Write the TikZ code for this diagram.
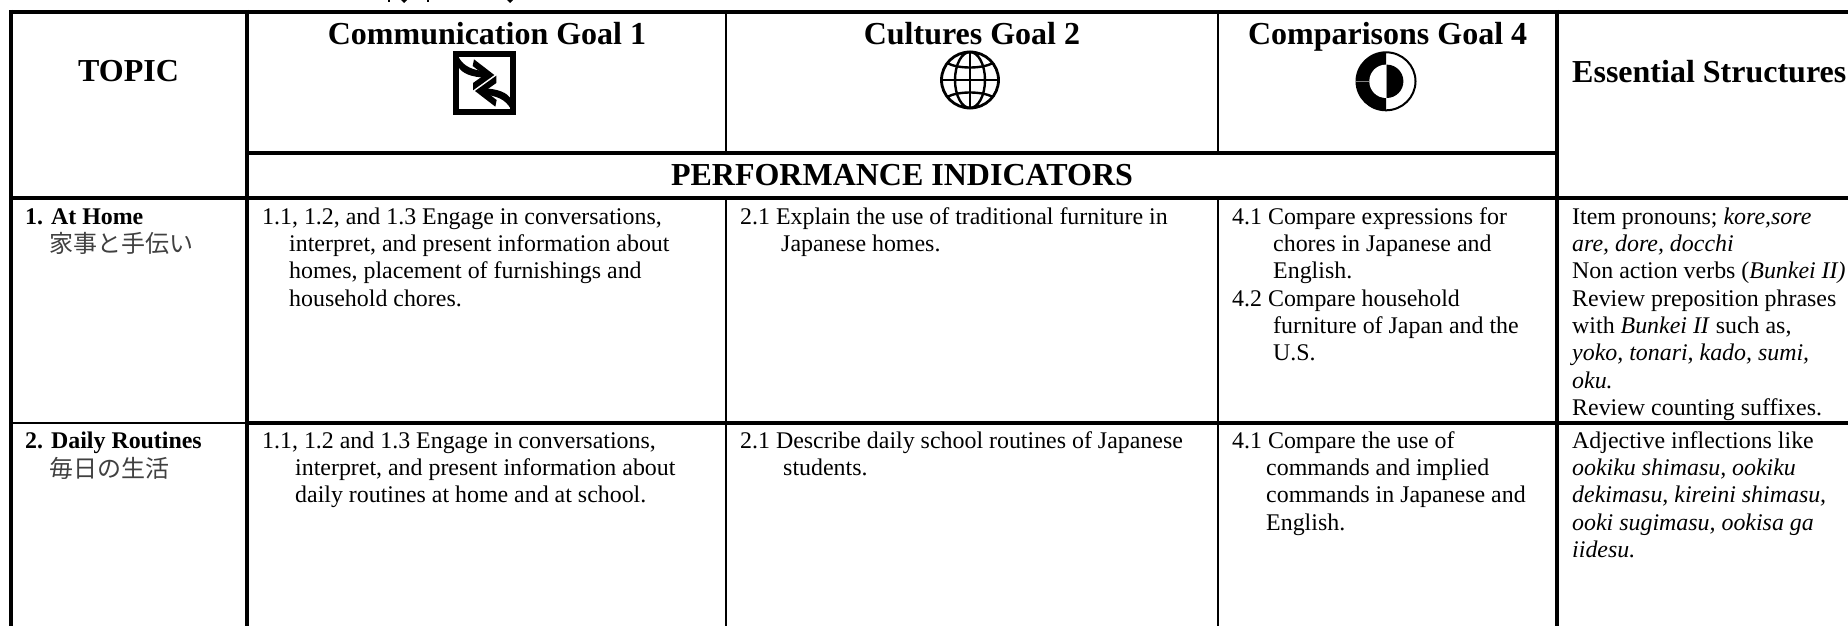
\documentclass[tikz,border=0pt]{standalone}
\usepackage{fontspec}
\setmainfont{Liberation Serif}
\newfontfamily\jpfont{Noto Sans CJK JP}
\newcommand{\fs}{\rule{0pt}{20pt}}
\newcommand{\hg}[1]{\hspace*{#1pt}}
\definecolor{jpgrey}{gray}{0.25}
\tikzset{
  thickrule/.style={line width=3.8pt,black},
  midrule/.style={line width=2.4pt,black},
  cell/.style={anchor=north west,inner sep=0pt,align=left,font=\fontsize{23.9}{27.3}\selectfont},
  head/.style={anchor=base,inner sep=0pt,font=\fontsize{32}{36}\selectfont\bfseries},
  jp/.style={anchor=base west,inner sep=0pt,text=jpgrey,font=\fontsize{24}{27}\selectfont\jpfont},
}
\begin{document}
\begin{tikzpicture}[x=1pt,y=-1pt]
\useasboundingbox (0,0) rectangle (1848,626);
\clip (0,0) rectangle (1848,626);
% table rules
\draw[thickrule] (9,11.8) -- (1848,11.8);
\draw[thickrule] (245,152.7) -- (1559,152.7);
\draw[thickrule] (9,198) -- (1848,198);
\draw[midrule] (10,422.7) -- (247,422.7);
\draw[thickrule] (245,422.7) -- (1848,422.7);
\draw[line width=3.6pt] (10.7,10) -- (10.7,626);
\draw[line width=4pt] (247,10) -- (247,626);
\draw[midrule] (726,11) -- (726,152);
\draw[midrule] (726,198) -- (726,626);
\draw[midrule] (1218,11) -- (1218,152);
\draw[midrule] (1218,198) -- (1218,626);
\draw[line width=4pt] (1557,10) -- (1557,626);
% clipped fragments at the top
\fill (388,0) rectangle (390,2);
\fill (401,0) -- (407,0) -- (404,3) -- cycle;
\fill (427,0) rectangle (429,2);
\fill (507,0) -- (513,0) -- (510,3) -- cycle;
% headings
\node[head] (topic) at (128.5,81.7) {TOPIC};
\node[head] (comm) at (487,45) {Communication Goal 1};
\node[head] (cult) at (972,45) {Cultures Goal 2};
\node[head] (comp) at (1387.6,45) {Comparisons Goal 4};
\node[head,anchor=base west] (ess) at (1572,82) {Essential Structures};
\node[head] (perf) at (902,185.7) {PERFORMANCE INDICATORS};
% communication icon
\begin{scope}[shift={(430,40)},x=0.3333pt,y=-0.3333pt]
\draw[line width=6pt,miter limit=10] (79,42) rectangle (249,216);
\fill (85,50) .. controls (102,82) and (130,90) .. (168,95) -- (168,113) .. controls (125,112) and (95,100) .. (85,80) -- cycle;
\fill (132,58) -- (193,105) -- (129,151) -- (129,129) -- (163,105) -- (128,78) -- cycle;
\fill (243,208) .. controls (226,176) and (198,168) .. (160,163) -- (160,145) .. controls (203,146) and (233,158) .. (243,178) -- cycle;
\fill (196,200) -- (135,153) -- (199,107) -- (199,129) -- (165,153) -- (200,180) -- cycle;
\end{scope}
% globe icon
\begin{scope}[shift={(970,80)}]
\draw[line width=2.8pt] (0,0) ellipse (28.5pt and 28pt);
\draw[line width=2.4pt] (0,0) ellipse (15pt and 28pt);
\draw[line width=2.4pt] (0,-28) -- (0,28);
\draw[line width=2.4pt] (-29,0) -- (29,0);
\draw[line width=2.4pt] (-23,-17) .. controls (-12,-11) and (12,-11) .. (23,-17);
\draw[line width=2.4pt] (-23,17) .. controls (-12,11) and (12,11) .. (23,17);
\end{scope}
% comparison icon
\begin{scope}[shift={(1386,81.3)}]
\fill (0,-30) arc (90:270:30.5pt and 30pt) -- cycle;
\fill[white] (0,-16.7) arc (90:270:16.7pt) -- cycle;
\draw[line width=2pt] (0,-29) arc (90:-90:29.5pt and 29pt);
\fill (0.7,-16.7) arc (90:-90:16.7pt) -- cycle;
\draw[gray,line width=0.5pt] (-30.5,0) -- (-16.7,0);
\end{scope}
% row 1
\node[cell] (t1) at (25,204) {\fs\textbf{1. At Home}};
\node[jp] (t1j) at (49.5,252.5) {家事と手伝い};
\node[cell] (c11) at (262,204) {\fs 1.1, 1.2, and 1.3 Engage in conversations,\\\hg{27}interpret, and present information about\\\hg{27}homes, placement of furnishings and\\\hg{27}household chores.};
\node[cell] (c12) at (740,204) {\fs 2.1 Explain the use of traditional furniture in\\\hg{41}Japanese homes.};
\node[cell] (c13) at (1232,204) {\fs 4.1 Compare expressions for\\\hg{41}chores in Japanese and\\\hg{41}English.\\4.2 Compare household\\\hg{41}furniture of Japan and the\\\hg{41}U.S.};
\node[cell] (c14) at (1572,204) {\fs Item pronouns; \textit{kore,sore}\\\textit{are, dore, docchi}\\Non action verbs (\textit{Bunkei II)}\\Review preposition phrases\\with \textit{Bunkei II} such as,\\\textit{yoko, tonari, kado, sumi,}\\\textit{oku.}\\Review counting suffixes.};
% row 2
\node[cell] (t2) at (25,427.9) {\fs\textbf{2. Daily Routines}};
\node[jp] (t2j) at (49.5,477.7) {毎日の生活};
\node[cell] (c21) at (262,427.9) {\fs 1.1, 1.2 and 1.3 Engage in conversations,\\\hg{33}interpret, and present information about\\\hg{33}daily routines at home and at school.};
\node[cell] (c22) at (740,427.9) {\fs 2.1 Describe daily school routines of Japanese\\\hg{43}students.};
\node[cell] (c23) at (1232,427.9) {\fs 4.1 Compare the use of\\\hg{34}commands and implied\\\hg{34}commands in Japanese and\\\hg{34}English.};
\node[cell] (c24) at (1572,427.9) {\fs Adjective inflections like\\\textit{ookiku shimasu, ookiku}\\\textit{dekimasu, kireini shimasu,}\\\textit{ooki sugimasu, ookisa ga}\\\textit{iidesu.}};
\end{tikzpicture}
\end{document}
